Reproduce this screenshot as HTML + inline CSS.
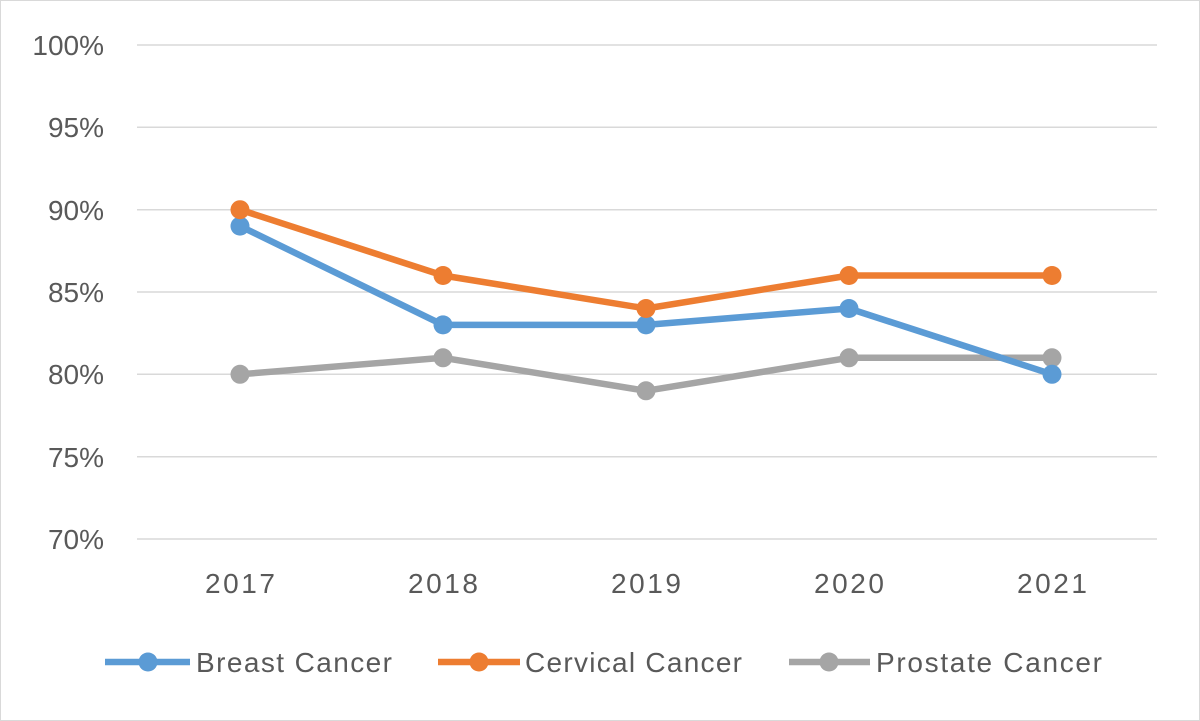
<!DOCTYPE html>
<html><head><style>
html,body{margin:0;padding:0;background:#fff;}
svg{display:block;font-family:"Liberation Sans",sans-serif;}
</style></head><body>
<svg width="1200" height="721" viewBox="0 0 1200 721">
<rect x="0.5" y="0.5" width="1199" height="720" fill="#fff" stroke="#d9d9d9"/>
<g stroke="#d9d9d9" stroke-width="1.5">
<line x1="137" x2="1157" y1="45" y2="45"/>
<line x1="137" x2="1157" y1="127.3" y2="127.3"/>
<line x1="137" x2="1157" y1="209.7" y2="209.7"/>
<line x1="137" x2="1157" y1="292" y2="292"/>
<line x1="137" x2="1157" y1="374.3" y2="374.3"/>
<line x1="137" x2="1157" y1="456.7" y2="456.7"/>
<line x1="137" x2="1157" y1="539" y2="539"/>
</g>
<g fill="#595959" font-size="28" text-anchor="end">
<text x="104" y="55">100%</text>
<text x="104" y="137">95%</text>
<text x="104" y="220">90%</text>
<text x="104" y="302">85%</text>
<text x="104" y="384">80%</text>
<text x="104" y="467">75%</text>
<text x="104" y="549">70%</text>
</g>
<g fill="#595959" font-size="28">
<text x="205" y="593" textLength="70">2017</text>
<text x="408" y="593" textLength="70">2018</text>
<text x="611" y="593" textLength="70">2019</text>
<text x="814" y="593" textLength="70">2020</text>
<text x="1017" y="593" textLength="70">2021</text>
</g>
<g fill="none" stroke-width="6.5" stroke-linejoin="round">
<polyline stroke="#a5a5a5" points="240,374.3 443,357.8 646,390.8 849,357.8 1052,357.8"/>
<polyline stroke="#5b9bd5" points="240,226.1 443,324.9 646,324.9 849,308.5 1052,374.3"/>
<polyline stroke="#ed7d31" points="240,209.7 443,275.5 646,308.5 849,275.5 1052,275.5"/>
</g>
<g fill="#a5a5a5"><circle cx="240" cy="374.3" r="9.5"/><circle cx="443" cy="357.8" r="9.5"/><circle cx="646" cy="390.8" r="9.5"/><circle cx="849" cy="357.8" r="9.5"/><circle cx="1052" cy="357.8" r="9.5"/></g>
<g fill="#5b9bd5"><circle cx="240" cy="226.1" r="9.5"/><circle cx="443" cy="324.9" r="9.5"/><circle cx="646" cy="324.9" r="9.5"/><circle cx="849" cy="308.5" r="9.5"/><circle cx="1052" cy="374.3" r="9.5"/></g>
<g fill="#ed7d31"><circle cx="240" cy="209.7" r="9.5"/><circle cx="443" cy="275.5" r="9.5"/><circle cx="646" cy="308.5" r="9.5"/><circle cx="849" cy="275.5" r="9.5"/><circle cx="1052" cy="275.5" r="9.5"/></g>
<g stroke-width="6.5">
<line x1="105" x2="190" y1="662" y2="662" stroke="#5b9bd5"/>
<line x1="438" x2="520" y1="662" y2="662" stroke="#ed7d31"/>
<line x1="789" x2="870" y1="662" y2="662" stroke="#a5a5a5"/>
</g>
<circle cx="148" cy="662" r="9.5" fill="#5b9bd5"/>
<circle cx="479" cy="662" r="9.5" fill="#ed7d31"/>
<circle cx="829" cy="662" r="9.5" fill="#a5a5a5"/>
<g fill="#595959" font-size="28">
<text x="196" y="672" textLength="196">Breast Cancer</text>
<text x="525" y="672" textLength="217">Cervical Cancer</text>
<text x="876" y="672" textLength="226">Prostate Cancer</text>
</g>
</svg>
</body></html>
